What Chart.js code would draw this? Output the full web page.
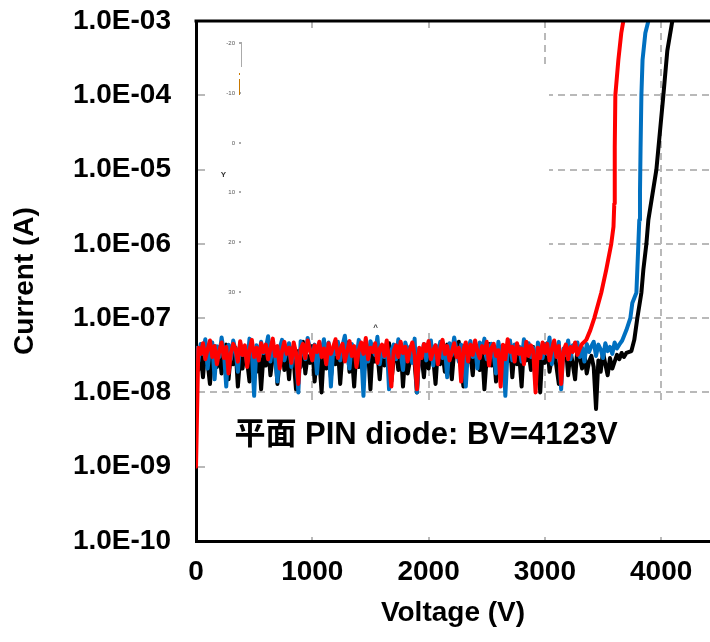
<!DOCTYPE html>
<html>
<head>
<meta charset="utf-8">
<script src="https://cdn.jsdelivr.net/npm/chart.js@4.4.1/dist/chart.umd.min.js"></script>
<style>
  html, body { margin: 0; padding: 0; background: #fff; }
  canvas { display: block; }
</style>
</head>
<body>
<canvas id="ivChart" width="710" height="642"></canvas>
<script>
// sweep voltages of the leakage floor (V)
const noiseV = [
  0, 20, 40, 60, 80, 100, 120, 140, 160, 180,
  200, 220, 240, 260, 280, 300, 320, 340, 360, 380,
  400, 420, 440, 460, 480, 500, 520, 540, 560, 580,
  600, 620, 640, 660, 680, 700, 720, 740, 760, 780,
  800, 820, 840, 860, 880, 900, 920, 940, 960, 980,
  1000, 1020, 1040, 1060, 1080, 1100, 1120, 1140, 1160, 1180,
  1200, 1220, 1240, 1260, 1280, 1300, 1320, 1340, 1360, 1380,
  1400, 1420, 1440, 1460, 1480, 1500, 1520, 1540, 1560, 1580,
  1600, 1620, 1640, 1660, 1680, 1700, 1720, 1740, 1760, 1780,
  1800, 1820, 1840, 1860, 1880, 1900, 1920, 1940, 1960, 1980,
  2000, 2020, 2040, 2060, 2080, 2100, 2120, 2140, 2160, 2180,
  2200, 2220, 2240, 2260, 2280, 2300, 2320, 2340, 2360, 2380,
  2400, 2420, 2440, 2460, 2480, 2500, 2520, 2540, 2560, 2580,
  2600, 2620, 2640, 2660, 2680, 2700, 2720, 2740, 2760, 2780,
  2800, 2820, 2840, 2860, 2880, 2900, 2920, 2940, 2960, 2980,
  3000, 3020, 3040, 3060, 3080, 3100, 3120, 3140, 3160, 3180,
  3200, 3220, 3240, 3260, 3280, 3300, 3320, 3340, 3360, 3380,
  3400, 3420, 3440, 3460, 3480, 3500, 3520, 3540, 3560, 3580,
  3600, 3620, 3640, 3660, 3680];

// leakage floor, in nA
const redNoise = [
  1, 40, 33, 46, 28, 38, 50, 30, 42, 24,
  36, 47, 29, 41, 18, 34, 45, 38, 26, 49,
  32, 43, 22, 37, 51, 30, 40, 27, 46, 35,
  44, 28, 39, 53, 31, 42, 21, 36, 48, 33,
  40, 25, 47, 34, 13, 38, 45, 29, 50, 37,
  27, 43, 35, 48, 30, 39, 24, 46, 33, 41,
  52, 29, 38, 45, 26, 36, 49, 31, 42, 22,
  37, 47, 33, 54, 28, 40, 35, 46, 25, 39,
  44, 31, 50, 27, 12, 36, 43, 30, 48, 34,
  41, 26, 38, 47, 32, 11, 40, 29, 45, 36,
  49, 28, 37, 43, 24, 39, 51, 33, 42, 27,
  35, 46, 30, 40, 14, 38, 47, 26, 44, 32,
  50, 36, 29, 42, 34, 48, 23, 39, 45, 31,
  37, 12, 44, 28, 52, 35, 41, 26, 46, 33,
  39, 24, 48, 31, 43, 36, 10, 40, 29, 47,
  34, 45, 27, 38, 50, 30, 42, 13, 36, 44,
  28, 41, 35, 47, 32, 39, 45];
const blueNoise = [
  40, 26, 45, 33, 52, 21, 38, 47, 15, 42,
  30, 55, 35, 12, 44, 28, 50, 37, 19, 46,
  32, 41, 24, 53, 36, 9, 43, 29, 48, 34,
  39, 57, 26, 45, 31, 14, 40, 51, 27, 37,
  46, 22, 42, 33, 10, 49, 35, 28, 54, 38,
  30, 44, 18, 41, 36, 52, 25, 47, 12, 39,
  33, 48, 27, 43, 58, 31, 21, 45, 37, 29,
  51, 35, 9, 42, 26, 49, 38, 32, 56, 24,
  40, 30, 46, 11, 37, 44, 28, 52, 34, 20,
  47, 36, 41, 25, 53, 10, 39, 31, 45, 27,
  38, 50, 23, 43, 34, 48, 29, 41, 16, 46,
  32, 55, 37, 26, 44, 35, 12, 40, 49, 30,
  42, 21, 47, 36, 53, 28, 39, 45, 33, 18,
  48, 31, 43, 9, 38, 50, 27, 44, 35, 41,
  26, 52, 34, 46, 30, 40, 13, 47, 37, 29,
  45, 33, 55, 24, 41, 36, 48, 11, 39, 32,
  50, 28, 43, 37, 47, 30, 40, 26, 45, 35,
  42, 48, 31, 44, 38, 29, 46, 36, 41, 33,
  47, 39, 44];
const blackNoise = [
  28, 20, 34, 16, 39, 25, 13, 31, 42, 22,
  36, 18, 27, 44, 15, 33, 24, 40, 12, 30,
  21, 37, 26, 14, 41, 29, 19, 35, 11, 32,
  23, 43, 17, 30, 38, 13, 26, 45, 20, 34,
  15, 39, 27, 11, 36, 22, 48, 18, 31, 25,
  42, 14, 33, 28, 10, 37, 21, 44, 16, 30,
  24, 40, 13, 35, 27, 47, 19, 32, 12, 38,
  22, 45, 17, 29, 36, 11, 41, 26, 34, 15,
  39, 23, 31, 46, 14, 28, 37, 20, 43, 12,
  33, 18, 27, 42, 25, 10, 35, 30, 16, 40,
  21, 46, 29, 13, 38, 24, 34, 19, 44, 27,
  15, 36, 31, 48, 22, 12, 39, 26, 33, 17,
  42, 28, 20, 37, 11, 30, 45, 23, 35, 14,
  29, 40, 18, 33, 26, 49, 16, 38, 24, 31,
  12, 43, 27, 35, 20, 41, 15, 32, 10, 37,
  25, 46, 19, 30, 38, 22, 13, 34, 28, 42,
  17, 36, 24, 15, 40, 29, 21, 33, 18, 26,
  31, 22, 6, 27, 19, 35, 24, 17, 29, 21,
  26, 32, 28, 34, 30];

// breakdown part (V, A)
const blackKneeV = [3701, 3744, 3769, 3795, 3830, 3847, 3873, 3890, 3959, 4019, 4053, 4096];
const blackKneeI = [3.4e-8, 3.6e-8, 5.1e-8, 1e-7, 2.2e-7, 4.5e-7, 1e-6, 2.1e-6, 1e-5, 1e-4, 4e-4, 1e-3];
const blueKneeV = [3665, 3701, 3735, 3752, 3787, 3795, 3804, 3812, 3818, 3823, 3830, 3840, 3864, 3890];
const blueKneeI = [5e-8, 6.9e-8, 1e-7, 1.6e-7, 2.2e-7, 4.5e-7, 1e-6, 2.1e-6, 5e-6, 2e-5, 1e-4, 3e-4, 6.9e-4, 1e-3];
const redKneeV = [3356, 3391, 3425, 3485, 3528, 3571, 3590, 3597, 3601, 3606, 3632, 3657, 3675];
const redKneeI = [5.1e-8, 6.9e-8, 1e-7, 2.2e-7, 4.5e-7, 1e-6, 1.7e-6, 3.5e-6, 2e-5, 1e-4, 3e-4, 6.9e-4, 1e-3];

const xTicks = [0, 1000, 2000, 3000, 4000];
const yTicks = [1e-10, 1e-9, 1e-8, 1e-7, 1e-6, 1e-5, 1e-4, 1e-3];

const noteText = '平面 PIN diode: BV=4123V';
const noteAt = { x: 330, y: 2.6e-9 };

function series(noise, kneeV, kneeI) {
    const floor = noise.map((v, i) => ({ x: noiseV[i], y: v * 1e-9 }));
    return floor.concat(kneeV.map((v, i) => ({ x: v, y: kneeI[i] })));
}

function expLabel(v) {
    const p = Math.round(-Math.log10(v));
    return '1.0E-' + String(p).padStart(2, '0');
}

// white patches that hide the grid (pasted-over inset in the original figure)
const maskRects = [
    [208, 33, 538, 329],
    [538, 68, 549, 329],
    [208, 403, 710, 536]
];

const insetLabels = [['-20', 43], ['-10', 93], ['0', 143], ['10', 192], ['20', 242], ['30', 292]];

const insetPlugin = {
    id: 'inset',
    beforeDatasetsDraw(chart) {
        const ctx = chart.ctx;
        ctx.save();
        ctx.fillStyle = '#fff';
        maskRects.forEach(r => ctx.fillRect(r[0], r[1], r[2] - r[0], r[3] - r[1]));

        ctx.fillStyle = '#555';
        ctx.font = '6px "Liberation Sans"';
        ctx.textAlign = 'right';
        ctx.textBaseline = 'middle';
        insetLabels.forEach(([t, y]) => {
            ctx.fillText(t, 235, y);
            ctx.fillRect(239, y - 0.5, 2, 1);
        });
        ctx.font = 'bold 8px "Liberation Sans"';
        ctx.fillStyle = '#333';
        ctx.fillText('Y', 226, 175);
        ctx.fillText('^', 378, 328);

        ctx.fillStyle = '#aaa';
        ctx.fillRect(241, 42, 1, 25);
        ctx.fillStyle = '#c87800';
        ctx.fillRect(239, 79, 1, 16);
        ctx.fillRect(239, 73, 1, 2);
        ctx.restore();
    },
    afterDatasetsDraw(chart) {
        const { ctx, chartArea: a, scales } = chart;
        ctx.save();
        ctx.strokeStyle = '#000';
        ctx.lineWidth = 3;
        ctx.beginPath();
        ctx.moveTo(a.left - 1.5, a.top);
        ctx.lineTo(a.right, a.top);
        ctx.stroke();

        ctx.fillStyle = '#000';
        ctx.font = 'bold 31px "Liberation Sans", "Noto Sans CJK SC"';
        ctx.textAlign = 'left';
        ctx.textBaseline = 'middle';
        ctx.fillText(noteText, scales.x.getPixelForValue(noteAt.x), scales.y.getPixelForValue(noteAt.y));
        ctx.restore();
    }
};

const tickFont = { family: '"Liberation Sans", Arial, sans-serif', size: 28, weight: 'bold' };

// red on top, black underneath (first dataset is drawn last)
new Chart(document.getElementById('ivChart'), {
    type: 'line',
    data: {
        datasets: [
            { label: 'red', data: series(redNoise, redKneeV, redKneeI), borderColor: '#FF0000' },
            { label: 'blue', data: series(blueNoise, blueKneeV, blueKneeI), borderColor: '#0070C0' },
            { label: 'black', data: series(blackNoise, blackKneeV, blackKneeI), borderColor: '#000000' }
        ]
    },
    options: {
        responsive: false,
        animation: false,
        devicePixelRatio: 1,
        layout: { padding: { top: 21, left: 0, right: 0, bottom: 0 } },
        plugins: { legend: { display: false }, tooltip: { enabled: false } },
        elements: {
            point: { radius: 0 },
            line: { borderWidth: 4, tension: 0, borderJoinStyle: 'round', borderCapStyle: 'round' }
        },
        scales: {
            x: {
                type: 'linear',
                min: 0,
                max: 4420,
                afterBuildTicks: s => { s.ticks = xTicks.map(v => ({ value: v })); },
                afterFit: s => { s.height = 101; },
                ticks: { font: tickFont, color: '#000', padding: 14, maxRotation: 0, autoSkip: false, callback: v => String(v) },
                grid: { color: '#b9b9b9', lineWidth: 2, drawTicks: false },
                border: { display: true, color: '#000', width: 3, dash: [7, 5] },
                title: {
                    display: true, text: 'Voltage (V)', color: '#000',
                    font: { family: '"Liberation Sans", Arial, sans-serif', size: 28, weight: 'bold' },
                    padding: { top: 0, bottom: 12 }
                }
            },
            y: {
                type: 'logarithmic',
                min: 1e-10,
                max: 1e-3,
                afterBuildTicks: s => { s.ticks = yTicks.map(v => ({ value: v })); },
                afterFit: s => { s.width = 196; s.paddingTop = 0; s.paddingBottom = 0; },
                ticks: { font: tickFont, color: '#000', padding: 25, autoSkip: false, callback: v => expLabel(v) },
                grid: { color: '#b9b9b9', lineWidth: 2, drawTicks: false },
                border: { display: true, color: '#000', width: 3, dash: [7, 5] },
                title: {
                    display: true, text: 'Current (A)', color: '#000',
                    font: { family: '"Liberation Sans", Arial, sans-serif', size: 28, weight: 'bold' },
                    padding: { top: 8, bottom: 0 }
                }
            }
        }
    },
    plugins: [insetPlugin]
});
</script>
</body>
</html>
